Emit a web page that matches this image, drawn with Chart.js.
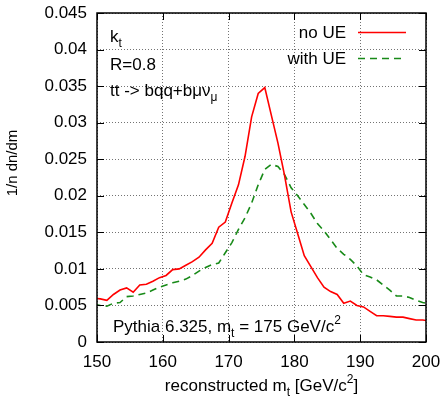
<!DOCTYPE html>
<html>
<head>
<meta charset="utf-8">
<script src="https://cdn.jsdelivr.net/npm/chart.js@4.4.1/dist/chart.umd.min.js"></script>
<style>
  html, body { margin: 0; padding: 0; background: #fff; }
  #wrap { width: 445px; height: 397px; }
</style>
</head>
<body>
<div id="wrap"><canvas id="c" width="445" height="397"></canvas></div>
<script>
// bin centres (1 GeV bins), the outer two get clipped at 150 / 200
const massBins = [
  149.5, 150.5, 151.5, 152.5, 153.5, 154.5, 155.5, 156.5, 157.5, 158.5,
  159.5, 160.5, 161.5, 162.5, 163.5, 164.5, 165.5, 166.5, 167.5, 168.5,
  169.5, 170.5, 171.5, 172.5, 173.5, 174.5, 175.5, 176.5, 177.5, 178.5,
  179.5, 180.5, 181.5, 182.5, 183.5, 184.5, 185.5, 186.5, 187.5, 188.5,
  189.5, 190.5, 191.5, 192.5, 193.5, 194.5, 195.5, 196.5, 197.5, 198.5,
  199.5, 200.5
];

const noUE = [
  0.0060, 0.0059, 0.0057, 0.0065, 0.0071, 0.0074, 0.0068, 0.0078, 0.0079, 0.0083,
  0.0088, 0.0091, 0.0099, 0.0100, 0.0105, 0.0110, 0.0116, 0.0126, 0.0135, 0.0157,
  0.0164, 0.0190, 0.0215, 0.0254, 0.0308, 0.0340, 0.0348, 0.0310, 0.0272, 0.0228,
  0.0178, 0.0148, 0.0118, 0.0103, 0.0088, 0.0075, 0.0069, 0.0065, 0.0053, 0.0056,
  0.0050, 0.0048, 0.0042, 0.0036, 0.0036, 0.0035, 0.0034, 0.0034, 0.0032, 0.0030,
  0.0030, 0.0029
];

const withUE = [
  0.0052, 0.0050, 0.0049, 0.0053, 0.0054, 0.0062, 0.0063, 0.0065, 0.0067, 0.0071,
  0.0075, 0.0078, 0.0081, 0.0083, 0.0086, 0.0091, 0.0097, 0.0102, 0.0106, 0.0108,
  0.0122, 0.0136, 0.0154, 0.0170, 0.0190, 0.0215, 0.0236, 0.0243, 0.0240, 0.0229,
  0.0211, 0.0200, 0.0188, 0.0176, 0.0162, 0.0152, 0.0140, 0.0128, 0.0120, 0.0113,
  0.0104, 0.0092, 0.0089, 0.0085, 0.0078, 0.0071, 0.0063, 0.0063, 0.0061, 0.0057,
  0.0054, 0.0052
];

const xTicks = [150, 160, 170, 180, 190, 200];
const yTicks = [0, 0.005, 0.01, 0.015, 0.02, 0.025, 0.03, 0.035, 0.04, 0.045];
const seriesNames = ['no UE', 'with UE'];

const FONT = '"Liberation Sans", Arial, Helvetica, sans-serif';
const RED = '#ff0000';
const GREEN = '#188a18';

// text with sub/superscript pieces: [text, '' | 'sub' | 'sup']
function richText(ctx, parts, x, y, size, align) {
  const small = Math.round(size * 0.72);
  let total = 0;
  parts.forEach(p => {
    ctx.font = (p[1] ? small : size) + 'px ' + FONT;
    total += ctx.measureText(p[0]).width;
  });
  let cx = x;
  if (align === 'center') cx = x - total / 2;
  if (align === 'right') cx = x - total;
  ctx.textAlign = 'left';
  ctx.textBaseline = 'alphabetic';
  parts.forEach(p => {
    ctx.font = (p[1] ? small : size) + 'px ' + FONT;
    let dy = 0;
    if (p[1] === 'sub') dy = size * 0.3;
    if (p[1] === 'sup') dy = -size * 0.45;
    ctx.fillText(p[0], cx, y + dy);
    cx += ctx.measureText(p[0]).width;
  });
}

const overlay = {
  id: 'overlay',
  afterDatasetsDraw(chart) {
    const { ctx, chartArea: a, scales } = chart;
    const sx = scales.x, sy = scales.y;
    ctx.save();

    // inward tick marks on all four sides
    ctx.strokeStyle = '#000';
    ctx.lineWidth = 1;
    ctx.beginPath();
    sx.ticks.forEach(t => {
      const px = Math.round(sx.getPixelForValue(t.value)) + 0.5;
      ctx.moveTo(px, a.bottom); ctx.lineTo(px, a.bottom - 7);
      ctx.moveTo(px, a.top); ctx.lineTo(px, a.top + 7);
    });
    sy.ticks.forEach(t => {
      const py = Math.round(sy.getPixelForValue(t.value)) + 0.5;
      ctx.moveTo(a.left, py); ctx.lineTo(a.left + 7, py);
      ctx.moveTo(a.right, py); ctx.lineTo(a.right - 7, py);
    });
    ctx.stroke();

    ctx.lineWidth = 1.5;
    ctx.strokeRect(a.left, a.top, a.right - a.left, a.bottom - a.top);

    // key, top right
    ctx.fillStyle = '#000';
    chart.data.datasets.forEach((ds, i) => {
      const ly = 32 + i * 26;
      richText(ctx, [[ds.label, '']], 346, ly + 6, 17, 'right');
      ctx.strokeStyle = ds.borderColor;
      ctx.lineWidth = ds.borderWidth;
      ctx.setLineDash(ds.borderDash || []);
      ctx.beginPath();
      ctx.moveTo(358, ly + 0.5);
      ctx.lineTo(406, ly + 0.5);
      ctx.stroke();
      ctx.setLineDash([]);
    });

    // labels inside the frame
    ctx.fillStyle = '#000';
    richText(ctx, [['k', ''], ['t', 'sub']], 110, 42, 17, 'left');
    richText(ctx, [['R=0.8', '']], 110, 70, 17, 'left');
    richText(ctx, [['tt -> bqq+b\u03bc\u03bd', ''], ['\u03bc', 'sub']], 110, 96, 17, 'left');
    richText(ctx, [['Pythia 6.325, m', ''], ['t', 'sub'], [' = 175 GeV/c', ''], ['2', 'sup']], 113, 332, 17, 'left');

    // axis titles
    richText(ctx, [['reconstructed m', ''], ['t', 'sub'], [' [GeV/c', ''], ['2', 'sup'], [']', '']],
      (a.left + a.right) / 2, 391, 17, 'center');

    ctx.translate(13, 163);
    ctx.rotate(-Math.PI / 2);
    ctx.font = '15px ' + FONT;
    ctx.textAlign = 'center';
    ctx.textBaseline = 'middle';
    ctx.fillText('1/n dn/dm', 0, 0);

    ctx.restore();
  }
};

const gridStyle = {
  color: 'rgba(0,0,0,0.55)',
  lineWidth: 1,
  drawTicks: false
};

new Chart(document.getElementById('c').getContext('2d'), {
  type: 'line',
  data: {
    datasets: [
      {
        label: seriesNames[0],
        data: massBins.map((m, i) => ({ x: m, y: noUE[i] })),
        borderColor: RED,
        borderWidth: 1.6,
        pointRadius: 0,
        tension: 0,
        fill: false
      },
      {
        label: seriesNames[1],
        data: massBins.map((m, i) => ({ x: m, y: withUE[i] })),
        borderColor: GREEN,
        borderWidth: 1.6,
        borderDash: [7, 5],
        pointRadius: 0,
        tension: 0,
        fill: false
      }
    ]
  },
  options: {
    responsive: false,
    animation: false,
    devicePixelRatio: 1,
    layout: { padding: { top: 13, right: 19, bottom: 0, left: 0 } },
    plugins: { legend: { display: false }, tooltip: { enabled: false } },
    scales: {
      x: {
        type: 'linear',
        min: 150,
        max: 200,
        afterFit: s => { s.height = 55; s.paddingLeft = 0; s.paddingRight = 0; },
        afterBuildTicks: s => { s.ticks = xTicks.map(v => ({ value: v })); },
        grid: gridStyle,
        border: { display: false, dash: [1, 2] },
        ticks: {
          padding: 10,
          color: '#000',
          font: { family: FONT, size: 17 },
          maxRotation: 0,
          autoSkip: false,
          callback: v => String(v)
        }
      },
      y: {
        min: 0,
        max: 0.045,
        afterFit: s => { s.width = 97; s.paddingTop = 0; s.paddingBottom = 0; },
        afterBuildTicks: s => { s.ticks = yTicks.map(v => ({ value: v })); },
        grid: gridStyle,
        border: { display: false, dash: [1, 2] },
        ticks: {
          padding: 10,
          color: '#000',
          font: { family: FONT, size: 17 },
          autoSkip: false,
          callback: v => String(Number(v.toFixed(3)))
        }
      }
    }
  },
  plugins: [overlay]
});
</script>
</body>
</html>
